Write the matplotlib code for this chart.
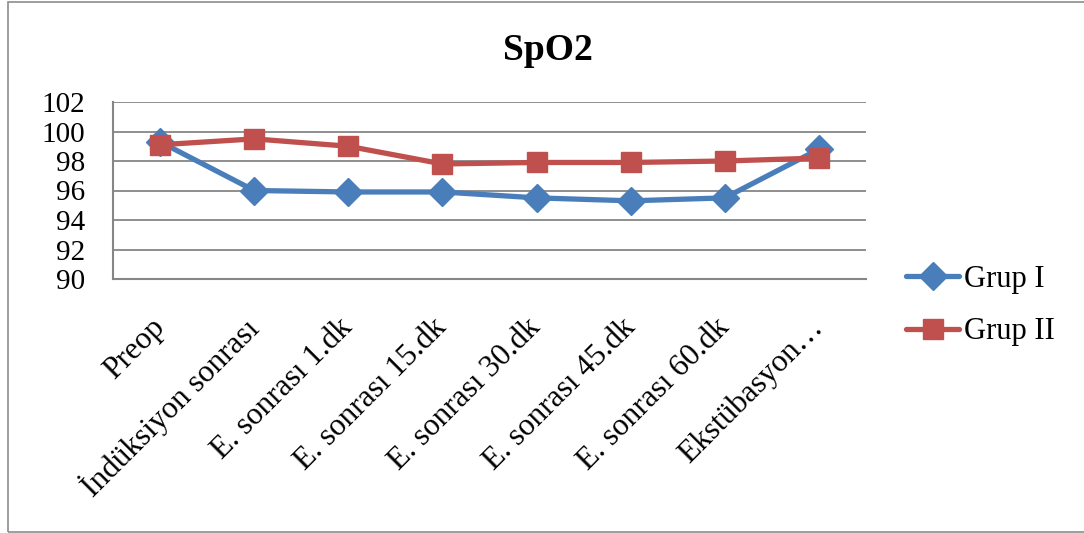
import matplotlib
matplotlib.use("Agg")
import matplotlib.pyplot as plt
from matplotlib.patches import Rectangle

plt.rcParams['font.family'] = ['Liberation Serif', 'DejaVu Serif']

categories = ["Preop", "İndüksiyon sonrası", "E. sonrası 1.dk", "E. sonrası 15.dk",
              "E. sonrası 30.dk", "E. sonrası 45.dk", "E. sonrası 60.dk", "Ekstübasyon…"]
grup1 = [99.3, 96.0, 95.9, 95.9, 95.5, 95.3, 95.5, 98.8]
grup2 = [99.1, 99.5, 99.0, 97.8, 97.9, 97.9, 98.0, 98.2]
yticks = [90, 92, 94, 96, 98, 100, 102]

blue = "#4A7EBB"
red = "#C0504D"
grid_gray = "#868686"

fig = plt.figure(figsize=(10.84, 5.33), dpi=100)
fig.patch.set_facecolor("white")

# frame around the whole chart
fig.patches.append(Rectangle((8 / 1084, 1 / 533), 1.2, 530 / 533, transform=fig.transFigure,
                             fill=False, edgecolor="#8C8C8C", linewidth=1.2))

ax = fig.add_axes([113 / 1084, 1 - 279 / 533, (866 - 113) / 1084, (279 - 102) / 533])
x = list(range(len(categories)))

ax.plot(x, grup1, color=blue, linewidth=3.8, marker="D", markersize=14,
        label="Grup I", solid_capstyle="round")
ax.plot(x, grup2, color=red, linewidth=3.8, marker="s", markersize=14.5,
        label="Grup II", solid_capstyle="round")

ax.set_xlim(-0.5, len(categories) - 0.5)
ax.set_ylim(90, 102)
ax.set_yticks(yticks)
ax.set_yticklabels([str(v) for v in yticks], fontsize=21)
ax.set_xticks(x)
ax.set_xticklabels(categories, fontsize=22.5, rotation=45, ha="right",
                   va="center", rotation_mode="anchor")
ax.tick_params(axis="both", length=0)
ax.tick_params(axis="y", pad=20)
ax.tick_params(axis="x", pad=32)

ax.grid(axis="y", color=grid_gray, linewidth=1.3)
ax.set_axisbelow(True)
for side in ["top", "right"]:
    ax.spines[side].set_visible(False)
for side in ["left", "bottom"]:
    ax.spines[side].set_color(grid_gray)
    ax.spines[side].set_linewidth(1.5)

fig.text(548 / 1084, 1 - 50 / 533, "SpO2", fontsize=27, fontweight="bold",
         ha="center", va="center")

leg = ax.legend(loc="center left", bbox_to_anchor=(1.053, -0.15), frameon=False,
                fontsize=22, handlelength=1.75, handletextpad=0.15,
                labelspacing=0.78, borderaxespad=0, borderpad=0)

fig.savefig("out.png", dpi=100, facecolor="white")
